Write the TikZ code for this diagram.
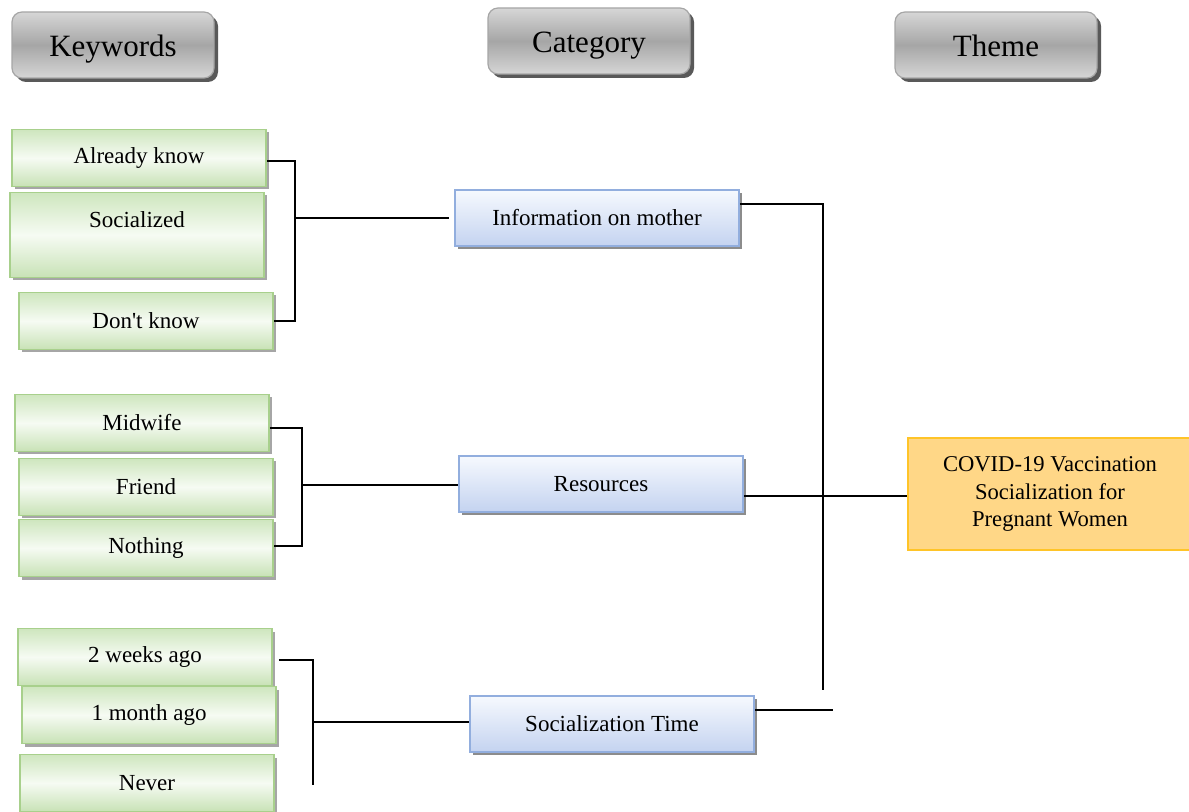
\documentclass[tikz,border=0pt]{standalone}
\usepackage{fontspec}
\setmainfont{Liberation Serif}
\usetikzlibrary{shadows}

\definecolor{kwline}{RGB}{168,208,140}
\definecolor{kwtop}{RGB}{206,230,190}
\definecolor{kwmid}{RGB}{246,251,243}
\definecolor{kwbot}{RGB}{200,226,182}
\definecolor{catline}{RGB}{146,174,222}
\definecolor{cattop}{RGB}{246,249,254}
\definecolor{catbot}{RGB}{196,211,240}
\definecolor{thline}{RGB}{255,196,40}
\definecolor{thfill}{RGB}{255,215,135}
\definecolor{headtop}{RGB}{214,214,214}
\definecolor{headmid}{RGB}{166,166,166}

\tikzstyle{headbox}=[draw=gray!70, rounded corners=5pt, line width=0.6pt,
  top color=headtop, bottom color=headtop, middle color=headmid,
  minimum width=101pt, minimum height=33pt, text height=12pt, text depth=0pt,
  font=\fontsize{15.5}{18}\selectfont,
  drop shadow={shadow xshift=2pt, shadow yshift=-2pt, fill=black!65, opacity=1}]
\tikzstyle{kwbox}=[draw=kwline, line width=0.8pt,
  top color=kwtop, bottom color=kwbot, middle color=kwmid,
  minimum width=127pt, minimum height=28.5pt, font=\fontsize{11.5}{13.5}\selectfont,
  drop shadow={shadow xshift=1.5pt, shadow yshift=-1.5pt, fill=black!35, opacity=1}]
\tikzstyle{catbox}=[draw=catline, line width=0.8pt,
  top color=cattop, bottom color=catbot,
  minimum width=142pt, minimum height=28pt, font=\fontsize{11.5}{13.5}\selectfont,
  drop shadow={shadow xshift=1.5pt, shadow yshift=-1.5pt, fill=black!45, opacity=1}]
\tikzstyle{themebox}=[draw=thline, line width=0.8pt, fill=thfill,
  minimum width=142pt, minimum height=56pt, align=center,
  font=\fontsize{11.3}{13.6}\selectfont]
\tikzstyle{link}=[black, line width=0.8pt]

\begin{document}
\begin{tikzpicture}[x=0.5pt, y=-0.5pt]
  \useasboundingbox (0,0) rectangle (1189,812);
  % column heads
  \node[headbox] (hkw) at (113,45) {Keywords};
  \node[headbox] (hcat) at (589,41) {Category};
  \node[headbox] (hth) at (996,45) {Theme};
  % keywords
  \node[kwbox] (already) at (139,158) {Already know};
  \node[kwbox, minimum height=42.5pt, align=center] (social) at (137,235) {Socialized\\[2pt]~};
  \node[kwbox] (dontknow) at (146,321) {Don\textquotesingle t know};
  \node[kwbox] (midwife) at (142,423) {Midwife};
  \node[kwbox] (friend) at (146,487) {Friend};
  \node[kwbox] (nothing) at (146,548) {Nothing};
  \node[kwbox] (weeks) at (145,657) {2 weeks ago};
  \node[kwbox] (month) at (149,715) {1 month ago};
  \node[kwbox] (never) at (147,783) {Never};
  % categories
  \node[catbox] (info) at (597,218) {Information on mother};
  \node[catbox] (res) at (601,484) {Resources};
  \node[catbox] (time) at (612,724) {Socialization Time};
  % theme
  \node[themebox] (goal) at (1050,494) {COVID-19 Vaccination\\Socialization for\\Pregnant Women};
  % junctions
  \coordinate (j1) at (295,218);
  \coordinate (j2) at (302,485);
  \coordinate (j3) at (313,722);
  \coordinate (j3end) at (313,785);
  \coordinate (jr) at (823,690);
  \coordinate (tend) at (833,710);
  \draw[link] ([yshift=-1.5pt]already.east) -| (j1) |- (dontknow.east);
  \draw[link, shorten >=2.5pt] (j1) -- (j1 -| info.west);
  \draw[link] ([yshift=-2.5pt]midwife.east) -| (j2) |- ([yshift=1pt]nothing.east);
  \draw[link] (j2) -- (j2 -| res.west);
  \draw[link] ([xshift=3pt,yshift=-1.5pt]weeks.east) -| (j3end);
  \draw[link] (j3) -- (j3 -| time.west);
  \draw[link, line width=1.1pt] ([yshift=7pt]info.east) -| (jr);
  \draw[link] ([yshift=-6pt]res.east) -- ([yshift=-6pt]res.east -| goal.west);
  \draw[link] ([yshift=7pt]time.east) -- (tend);
\end{tikzpicture}
\end{document}
